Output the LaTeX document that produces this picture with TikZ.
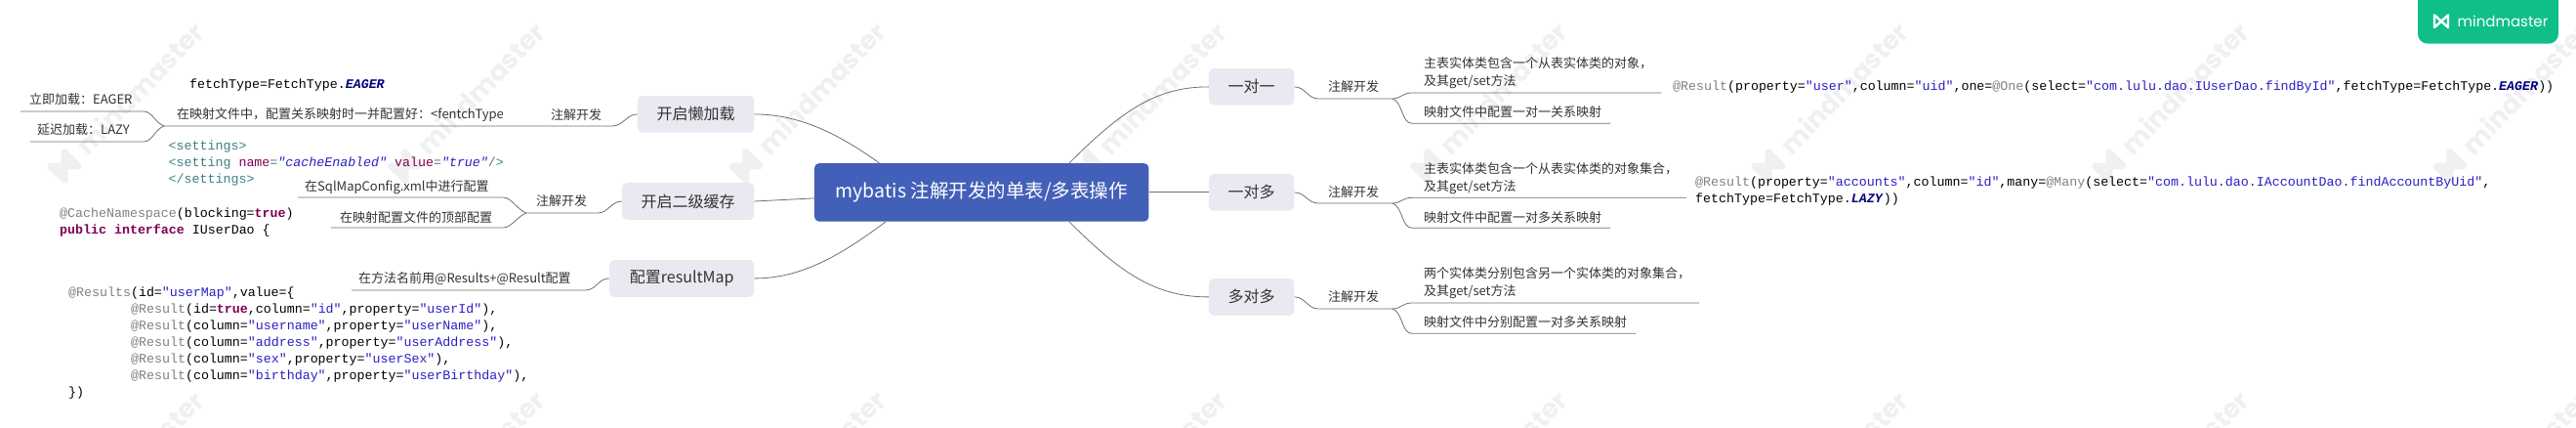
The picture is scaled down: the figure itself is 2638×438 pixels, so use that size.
\documentclass[tikz,border=0pt]{standalone}
\usepackage{fontspec}
\setmainfont{Noto Sans CJK SC}
\newfontfamily\codefont{Liberation Mono}
\newfontfamily\wmfont{Poppins}
\definecolor{wmgray}{HTML}{F0F0F0}
\definecolor{linegray}{HTML}{6E6E6E}
\definecolor{boxfill}{HTML}{E9EAF1}
\definecolor{mainfill}{HTML}{4360B8}
\definecolor{badge}{HTML}{10BF88}
\definecolor{txt}{HTML}{333333}
\definecolor{annot}{HTML}{808080}
\definecolor{strblue}{HTML}{2A1FC0}
\definecolor{kwpurple}{HTML}{7F0055}
\definecolor{enumblue}{HTML}{000080}
\definecolor{tealc}{HTML}{3F7F7F}
\newcommand{\cA}[1]{\textcolor{annot}{#1}}
\newcommand{\cS}[1]{\textcolor{strblue}{#1}}
\newcommand{\cK}[1]{\textcolor{kwpurple}{\textbf{#1}}}
\newcommand{\cE}[1]{\textcolor{enumblue}{\textbf{\textit{#1}}}}
\tikzset{
  conn/.style={draw=linegray,line width=0.8pt},
  topicbox/.style={fill=boxfill,rounded corners=5pt,inner sep=0pt,text=txt,font=\fontsize{16}{16}\selectfont},
  mainbox/.style={fill=mainfill,rounded corners=5pt,inner sep=0pt,text=white,font=\fontsize{19.5}{19.5}\selectfont},
  lab/.style={inner sep=0pt,anchor=west,text=txt,font=\fontsize{13}{13}\selectfont},
  labc/.style={inner sep=0pt,text=txt,font=\fontsize{13}{13}\selectfont},
  code/.style={inner sep=0pt,anchor=west,text=black,font=\codefont\fontsize{13.3}{13.3}\selectfont},
}
\begin{document}
\begin{tikzpicture}[x=1pt,y=-1pt]
\useasboundingbox (0,0) rectangle (2638,438);
% watermark
\begin{scope}
\clip (0,0) rectangle (2638,438);
\foreach \wy in {170,547}{
\foreach \wx in {66,415,764,1113,1462,1811,2160,2509}{
  \begin{scope}[shift={(\wx,\wy)},rotate=46,transform shape]
    \draw[wmgray,line width=7pt,line join=round,line cap=round] (-10,-10)--(-10,10)--(10,-10)--(10,10)--cycle;
    \node[inner sep=0pt,anchor=west,text=wmgray,font=\wmfont\bfseries\fontsize{27}{27}\selectfont] (wm\wx\wy) at (24,0) {mindmaster};
  \end{scope}
}}
\end{scope}
% badge
\fill[badge,rounded corners=10pt] (2476,-15) rectangle (2620,44.7);
\draw[white,line width=2.4pt,line join=round] (2493,15.5)--(2493,28)--(2507,15.5)--(2507,28)--cycle;
\node[inner sep=0pt,anchor=west,text=white,font=\wmfont\fontsize{15}{15}\selectfont] (badgetext) at (2516.5,21.5) {mindmaster};
% main
\node[mainbox,minimum width=342.5pt,minimum height=59.7pt] (main) at (1005.2,196.9) {mybatis 注解开发的单表/多表操作};
% right topics
\node[topicbox,minimum width=87.5pt,minimum height=37.7pt] (one) at (1281.7,88.9) {一对一};
\node[topicbox,minimum width=87.5pt,minimum height=37.7pt] (onemany) at (1281.7,196.9) {一对多};
\node[topicbox,minimum width=87.5pt,minimum height=37.7pt] (manymany) at (1281.7,303.9) {多对多};
% left topics
\node[topicbox,minimum width=119.5pt,minimum height=37.7pt] (lazy) at (712.7,116.9) {开启懒加载};
\node[topicbox,minimum width=135.5pt,minimum height=38pt] (cache) at (704.7,206) {开启二级缓存};
\node[topicbox,minimum width=148.5pt,minimum height=37.7pt] (rmap) at (698.2,284.9) {配置resultMap};
% main connectors
\path (main.north) ++(89.8,0) coordinate (mtr);
\draw[conn] (mtr) .. controls (1150,112) and (1185,88.9) .. (one.west);
\draw[conn] (main.east |- onemany.west) -- (onemany.west);
\path (main.south) ++(89.8,0) coordinate (mbr);
\draw[conn] (mbr) .. controls (1150,282) and (1185,303.9) .. (manymany.west);
\path (main.north) ++(-104.7,0) coordinate (mtl);
\draw[conn] (mtl) .. controls (860,138) and (820,117) .. (lazy.east);
\path (main.west) ++(0,6) coordinate (mwl);
\draw[conn] (mwl) -- (cache.east);
\path (main.south) ++(-98.2,0) coordinate (mbl);
\draw[conn] (mbl) .. controls (860,262) and (820,285) .. (rmap.east);
% right branches
\foreach \tn/\yt/\yf/\yu/\yl/\xu/\xl/\pfx in {one/88.9/101/95/126.3/1701/1649/a,onemany/196.9/208/202.3/233.3/1727/1649/b,manymany/303.9/316/310/341.3/1740/1675/c}{
  \coordinate (f0\pfx) at (1350,\yf);
  \coordinate (f1\pfx) at (1425.7,\yf);
  \coordinate (ua\pfx) at (1446,\yu);
  \coordinate (ub\pfx) at (\xu,\yu);
  \coordinate (la\pfx) at (1446,\yl);
  \coordinate (lb\pfx) at (\xl,\yl);
  \node[labc] (lbl\pfx) at (1386,\yt) {注解开发};
  \draw[conn] (\tn.east) .. controls +(11,0) and +(-11,0) .. (f0\pfx) -- (f1\pfx);
  \draw[conn] (f1\pfx) .. controls +(9,0) and +(-10,0) .. (ua\pfx) -- (ub\pfx);
  \draw[conn] (f1\pfx) .. controls +(11,3) and +(-11,0) .. (la\pfx) -- (lb\pfx);
}
\node[lab] (t1) at (1458,64.3) {主表实体类包含一个从表实体类的对象，};
\node[lab] (t2) at (1458,83.3) {及其get/set方法};
\node[lab] (t3) at (1458,114.3) {映射文件中配置一对一关系映射};
\node[lab] (t4) at (1458,172.3) {主表实体类包含一个从表实体类的对象集合，};
\node[lab] (t5) at (1458,191.3) {及其get/set方法};
\node[lab] (t6) at (1458,222.3) {映射文件中配置一对多关系映射};
\node[lab] (t7) at (1458,279.3) {两个实体类分别包含另一个实体类的对象集合，};
\node[lab] (t8) at (1458,298.3) {及其get/set方法};
\node[lab] (t9) at (1458,329.3) {映射文件中分别配置一对多关系映射};
% right code
\node[code] (c1) at (1713,89) {\cA{@Result}(property=\cS{"user"},column=\cS{"uid"},one=\cA{@One}(select=\cS{"com.lulu.dao.IUserDao.findById"},fetchType=FetchType.\cE{EAGER}))};
\node[code] (c2) at (1736,187.3) {\cA{@Result}(property=\cS{"accounts"},column=\cS{"id"},many=\cA{@Many}(select=\cS{"com.lulu.dao.IAccountDao.findAccountByUid"},};
\node[code] (c3) at (1736,204.3) {fetchType=FetchType.\cE{LAZY}))};
% left: lazy
\coordinate (lzf) at (168,129);
\coordinate (lz1) at (627,129);
\coordinate (lza) at (147,114);
\coordinate (lzb) at (21,114);
\coordinate (lzc) at (147,145);
\coordinate (lzd) at (31,145);
\draw[conn] (lazy.west) .. controls +(-11,0) and +(11,0) .. (lz1) -- (lzf);
\draw[conn] (lzf) .. controls +(-9,-3) and +(9,0) .. (lza) -- (lzb);
\draw[conn] (lzf) .. controls +(-9,3) and +(9,0) .. (lzc) -- (lzd);
\node[labc] (lz2) at (590,118) {注解开发};
\node[lab] (lz3) at (181,118) {在映射文件中，配置关系映射时一并配置好：<fentchType};
\node[lab] (lz4) at (30,102) {立即加载：EAGER};
\node[lab] (lz5) at (38,133) {延迟加载：LAZY};
\node[code] (lz6) at (194,87) {fetchType=FetchType.\cE{EAGER}};
\node[code,text=tealc] (s1) at (172.5,150) {<settings>};
\node[code,text=tealc] (s2) at (172.5,167) {<setting \textcolor{kwpurple}{name}=\cS{\textit{"cacheEnabled"}} \textcolor{kwpurple}{value}=\cS{\textit{"true"}}/>};
\node[code,text=tealc] (s3) at (172.5,184) {</settings>};
% left: cache
\coordinate (cf) at (539,218);
\coordinate (c0) at (612,218);
\coordinate (cua) at (515,202);
\coordinate (cub) at (305,202);
\coordinate (cla) at (515,233);
\coordinate (clb) at (339,233);
\draw[conn] (cache.west) .. controls +(-11,0) and +(11,0) .. (c0) -- (cf);
\draw[conn] (cf) .. controls +(-9,-3) and +(9,0) .. (cua) -- (cub);
\draw[conn] (cf) .. controls +(-9,3) and +(9,0) .. (cla) -- (clb);
\node[labc] (cl) at (575,206) {注解开发};
\node[lab] (cl1) at (312,192) {在SqlMapConfig.xml中进行配置};
\node[lab] (cl2) at (348,223) {在映射配置文件的顶部配置};
\node[code] (cn1) at (61,219) {\cA{@CacheNamespace}(blocking=\cK{true})};
\node[code] (cn2) at (61,236) {\cK{public} \cK{interface} IUserDao \{};
% left: result map
\coordinate (rm0) at (599.5,297);
\coordinate (rm1) at (360,297);
\draw[conn] (rmap.west) .. controls +(-11,0) and +(11,0) .. (rm0) -- (rm1);
\node[lab] (rl) at (367,285) {在方法名前用@Results+@Result配置};
\node[code] (r1) at (70,300) {\cA{@Results}(id=\cS{"userMap"},value=\{};
\node[code] (r2) at (134,317) {\cA{@Result}(id=\cK{true},column=\cS{"id"},property=\cS{"userId"}),};
\node[code] (r3) at (134,334.2) {\cA{@Result}(column=\cS{"username"},property=\cS{"userName"}),};
\node[code] (r4) at (134,351.2) {\cA{@Result}(column=\cS{"address"},property=\cS{"userAddress"}),};
\node[code] (r5) at (134,368.2) {\cA{@Result}(column=\cS{"sex"},property=\cS{"userSex"}),};
\node[code] (r6) at (134,385.2) {\cA{@Result}(column=\cS{"birthday"},property=\cS{"userBirthday"}),};
\node[code] (r7) at (70,402.5) {\})};
\end{tikzpicture}
\end{document}
